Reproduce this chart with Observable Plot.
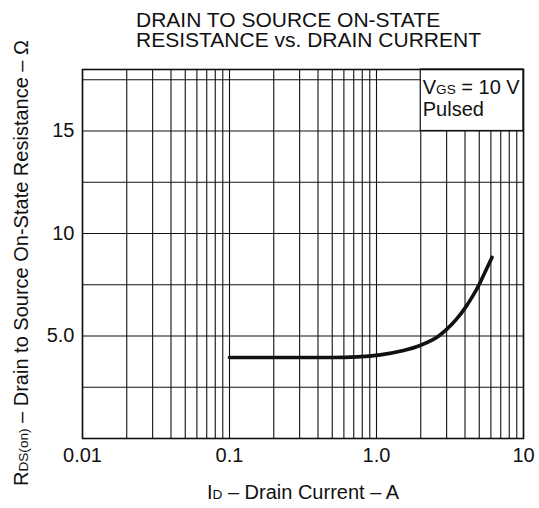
<!DOCTYPE html>
<html><head><meta charset="utf-8">
<script src="https://cdn.jsdelivr.net/npm/d3@7"></script>
<script src="https://cdn.jsdelivr.net/npm/@observablehq/plot@0.6"></script>
<style>
body{margin:0;background:#fff;font-family:"Liberation Sans",Arial,sans-serif;}
#title{height:58px;box-sizing:border-box;padding:10px 0 0 136px;font-size:21px;line-height:20px;color:#111;}
#chart svg{overflow:visible;}
</style></head><body>
<div id="title"></div>
<div id="chart"></div>
<script>
// ---- data ----
const titleLines = ["DRAIN TO SOURCE ON-STATE", "RESISTANCE vs. DRAIN CURRENT"];
const drainCurrentA = [0.1, 0.3, 0.5, 0.74, 1.06, 1.5, 2.0, 2.65, 3.0, 3.5, 4.0, 4.5, 5.0, 5.5, 6.1];
const resistanceOhm = [3.95, 3.95, 3.95, 3.98, 4.08, 4.28, 4.55, 5.0, 5.32, 5.82, 6.36, 6.93, 7.52, 8.15, 8.83];
const xGridValues = [0.01,0.02,0.03,0.04,0.05,0.06,0.07,0.08,0.09,
                     0.1,0.2,0.3,0.4,0.5,0.6,0.7,0.8,0.9,
                     1,2,3,4,5,6,7,8,9,10];
const yGridValues = [2.5, 5, 7.5, 10, 12.5, 15, 17.5];
const xTickValues = [0.01, 0.1, 1, 10];
const xTickLabels = ["0.01", "0.1", "1.0", "10"];
const yTickValues = [5, 10, 15];
const yTickLabels = ["5.0", "10", "15"];
const xDomain = [0.01, 10];
const yDomain = [0, 18];
const noteBox = {x1: 2, x2: 10, y1: 15, y2: 18};
const noteLines = ["VGS = 10 V", "Pulsed"];
const xLabel = "ID – Drain Current – A";
const yLabel = "RDS(on) – Drain to Source On-State Resistance – Ω";

document.getElementById("title").innerHTML = titleLines.join("<br>");

const curve = drainCurrentA.map((x, i) => ({x, y: resistanceOhm[i]}));
const ink = "#111";

const chart = Plot.plot({
  width: 539, height: 450,
  marginTop: 11, marginBottom: 70, marginLeft: 82, marginRight: 16,
  style: {fontFamily: "'Liberation Sans', Arial, sans-serif", fontSize: "20px", color: ink, background: "#fff", overflow: "visible"},
  x: {type: "log", domain: xDomain, ticks: xTickValues, tickSize: 0, tickPadding: 9,
      tickFormat: d => xTickLabels[xTickValues.indexOf(d)], label: null},
  y: {domain: yDomain, ticks: yTickValues, tickSize: 0, tickPadding: 8,
      tickFormat: d => yTickLabels[yTickValues.indexOf(d)], label: null},
  marks: [
    Plot.ruleX(xGridValues, {stroke: ink, strokeWidth: 1.1}),
    Plot.ruleY(yGridValues, {stroke: ink, strokeWidth: 1.1}),
    Plot.rect([noteBox], {x1: "x1", x2: "x2", y1: "y1", y2: "y2", fill: "#fff", stroke: ink, strokeWidth: 1.2}),
    Plot.frame({stroke: ink, strokeWidth: 1.6}),
    Plot.line(curve, {x: "x", y: "y", stroke: ink, strokeWidth: 3.6, curve: "monotone-x"}),
    Plot.text([noteLines.join("\n")], {x: () => noteBox.x1, y: () => noteBox.y2, textAnchor: "start",
      lineAnchor: "top", dx: 2, dy: 9, lineHeight: 1.085, fill: ink, fontSize: 20}),
    Plot.text([xLabel], {frameAnchor: "bottom", textAnchor: "middle", lineAnchor: "top", dy: 46, fill: ink, fontSize: 20}),
    Plot.text([yLabel], {frameAnchor: "left", textAnchor: "middle", rotate: -90, dx: -61, dy: 9, fill: ink, fontSize: 20})
  ]
});
document.getElementById("chart").appendChild(chart);

// rich text: small-cap style subscripts
function richify(el, parts) {
  el.textContent = "";
  for (const [s, small] of parts) {
    const t = document.createElementNS("http://www.w3.org/2000/svg", "tspan");
    t.textContent = s;
    if (small) t.setAttribute("font-size", "0.68em");
    el.appendChild(t);
  }
}
d3.select(chart).selectAll("text, tspan").each(function() {
  if (this.children.length) return;
  const s = this.textContent;
  if (s === noteLines[0]) richify(this, [["V", 0], ["GS", 1], [" = 10 V", 0]]);
  else if (s === xLabel) richify(this, [["I", 0], ["D", 1], [" – Drain Current – A", 0]]);
  else if (s === yLabel) richify(this, [["R", 0], ["DS(on)", 1], [" – Drain to Source On-State Resistance – Ω", 0]]);
});
</script>
</body></html>
